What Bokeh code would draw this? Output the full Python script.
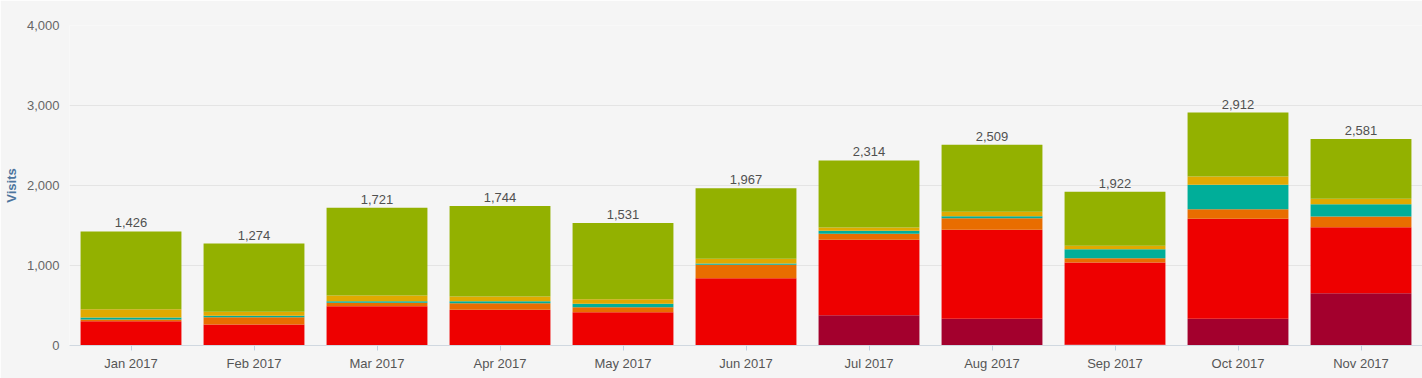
from bokeh.plotting import figure
from bokeh.models import ColumnDataSource, FactorRange, Range1d, FixedTicker, NumeralTickFormatter
from bokeh.core.properties import value
from bokeh.embed import file_html
from bokeh.resources import INLINE

months = ["Jan 2017", "Feb 2017", "Mar 2017", "Apr 2017", "May 2017", "Jun 2017",
          "Jul 2017", "Aug 2017", "Sep 2017", "Oct 2017", "Nov 2017"]
crimson = [0, 0, 0, 0, 0, 0, 379, 333, 8, 333, 654]
red = [304, 262, 491, 446, 417, 842, 942, 1113, 1030, 1250, 825]
orange = [20, 92, 42, 83, 62, 167, 75, 146, 54, 121, 133]
teal = [25, 17, 21, 25, 42, 17, 37, 25, 112, 304, 154]
gold = [104, 50, 71, 58, 58, 58, 42, 54, 42, 104, 67]
green = [973, 853, 1096, 1132, 952, 883, 839, 838, 676, 800, 748]
y_ticks = [0, 1000, 2000, 3000, 4000]

series = ["crimson", "red", "orange", "teal", "gold", "green"]
colors = ["#A3002D", "#EE0000", "#E96D00", "#00AE99", "#E1A900", "#93B100"]

totals = [sum(v) for v in zip(crimson, red, orange, teal, gold, green)]
src = ColumnDataSource(dict(month=months, crimson=crimson, red=red, orange=orange,
                            teal=teal, gold=gold, green=green, total=totals,
                            label=[f"{t:,}" for t in totals]))

FONT = "Liberation Sans"
p = figure(width=1422, height=378, x_range=FactorRange(*months, range_padding=0),
           y_range=Range1d(0, 4000), output_backend="svg", toolbar_location=None,
           min_border_left=68, min_border_right=0, min_border_top=25, min_border_bottom=33)
p.background_fill_color = "#F5F5F5"
p.border_fill_color = "#F5F5F5"
p.outline_line_color = None

p.vbar_stack(series, x="month", width=0.82, source=src, color=colors, line_color=None)
p.text(x="month", y="total", text="label", source=src, text_align="center",
       text_baseline="bottom", y_offset=-4, text_font=value(FONT),
       text_font_size="13px", text_color="#505050")

p.xgrid.grid_line_color = None
p.ygrid.grid_line_color = "#E4E4E4"
p.ygrid.ticker = FixedTicker(ticks=y_ticks)

ya = p.yaxis[0]
ya.ticker = FixedTicker(ticks=y_ticks)
ya.formatter = NumeralTickFormatter(format="0,0")
ya.axis_line_color = None
ya.major_tick_line_color = None
ya.minor_tick_line_color = None
ya.major_tick_out = 0
ya.major_tick_in = 0
ya.minor_tick_out = 0
ya.minor_tick_in = 0
ya.major_label_text_font = FONT
ya.major_label_text_font_size = "13px"
ya.major_label_text_color = "#666666"
ya.major_label_standoff = 10
ya.axis_label = "Visits"
ya.axis_label_text_font = FONT
ya.axis_label_text_font_size = "13px"
ya.axis_label_text_font_style = "bold"
ya.axis_label_text_color = "#4D759E"
ya.axis_label_standoff = 5

xa = p.xaxis[0]
xa.axis_line_color = "#D0D8E0"
xa.major_tick_line_color = "#C0D0E0"
xa.major_tick_out = 5
xa.major_tick_in = 0
xa.minor_tick_line_color = None
xa.major_label_text_font = FONT
xa.major_label_text_font_size = "13px"
xa.major_label_text_color = "#555555"
xa.major_label_standoff = 5

open("out.html", "w").write(file_html(p, INLINE))
